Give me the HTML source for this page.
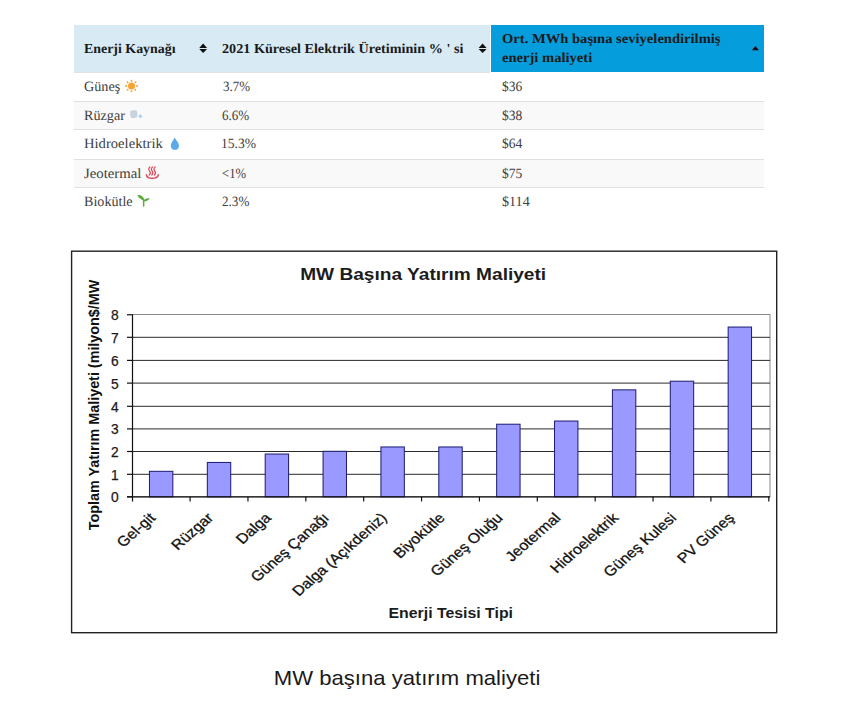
<!DOCTYPE html>
<html><head><meta charset="utf-8">
<style>
html,body{margin:0;padding:0;background:#fff;}
body{width:845px;height:726px;position:relative;overflow:hidden;font-family:"Liberation Serif", serif;}
.hdr{position:absolute;top:25px;height:47px;}
.row{position:absolute;left:74px;width:689.6px;box-sizing:border-box;}
.t{position:absolute;white-space:nowrap;line-height:1;transform-origin:0 0;text-rendering:geometricPrecision;}
.ic{position:absolute;overflow:visible;}
svg.chart{position:absolute;left:0;top:0;font-family:"Liberation Sans", sans-serif;}
</style></head><body>
<div class="hdr" style="left:74px;width:416px;background:#d8ebf5"></div>
<div class="hdr" style="left:491px;width:272.6px;background:#059ddc"></div>
<div class="row" style="top:72px;height:29px;background:#fff;"></div>
<div class="row" style="top:101px;height:28px;background:#f9f9f9;border-top:1px solid #e0e0e0;"></div>
<div class="row" style="top:129px;height:30px;background:#fff;border-top:1px solid #e0e0e0;"></div>
<div class="row" style="top:159px;height:28px;background:#f9f9f9;border-top:1px solid #e0e0e0;"></div>
<div class="row" style="top:187px;height:29px;background:#fff;border-top:1px solid #e0e0e0;"></div>
<div style="position:absolute;left:74px;top:72px;width:416px;height:1px;background:#dfe3e6"></div>
<span class="t" style="left:84.10px;top:41.71px;font-weight:bold;font-size:13.6px;color:#1a1a1a;transform:scaleX(1.0232)">Enerji Kaynağı</span>
<span class="t" style="left:222.10px;top:41.71px;font-weight:bold;font-size:13.6px;color:#1a1a1a;transform:scaleX(1.0433)">2021 Küresel Elektrik Üretiminin % ' si</span>
<span class="t" style="left:502.00px;top:32.21px;font-weight:bold;font-size:13.6px;color:#1a1a1a;transform:scaleX(1.0716)">Ort. MWh başına seviyelendirilmiş</span>
<span class="t" style="left:502.00px;top:51.21px;font-weight:bold;font-size:13.6px;color:#1a1a1a;transform:scaleX(1.0716)">enerji maliyeti</span>
<span class="t" style="left:84.40px;top:79.71px;font-weight:normal;font-size:14.2px;color:#404040;transform:scaleX(0.9992)">Güneş</span>
<span class="t" style="left:84.30px;top:109.11px;font-weight:normal;font-size:14.2px;color:#404040;transform:scaleX(0.9989)">Rüzgar</span>
<span class="t" style="left:84.20px;top:137.41px;font-weight:normal;font-size:14.2px;color:#404040;transform:scaleX(1.0306)">Hidroelektrik</span>
<span class="t" style="left:84.00px;top:167.01px;font-weight:normal;font-size:14.2px;color:#404040;transform:scaleX(1.0415)">Jeotermal</span>
<span class="t" style="left:84.40px;top:194.91px;font-weight:normal;font-size:14.2px;color:#404040;transform:scaleX(0.9945)">Biokütle</span>
<span class="t" style="left:222.50px;top:79.71px;font-weight:normal;font-size:14.2px;color:#404040;transform:scaleX(0.9181)">3.7%</span>
<span class="t" style="left:222.10px;top:109.11px;font-weight:normal;font-size:14.2px;color:#404040;transform:scaleX(0.9215)">6.6%</span>
<span class="t" style="left:221.35px;top:137.41px;font-weight:normal;font-size:14.2px;color:#404040;transform:scaleX(0.9546)">15.3%</span>
<span class="t" style="left:222.00px;top:167.01px;font-weight:normal;font-size:14.2px;color:#404040;transform:scaleX(0.8932)">&lt;1%</span>
<span class="t" style="left:222.00px;top:194.91px;font-weight:normal;font-size:14.2px;color:#404040;transform:scaleX(0.9249)">2.3%</span>
<span class="t" style="left:501.80px;top:79.71px;font-weight:normal;font-size:14.2px;color:#404040;transform:scaleX(0.9534)">$36</span>
<span class="t" style="left:501.80px;top:109.11px;font-weight:normal;font-size:14.2px;color:#404040;transform:scaleX(0.9534)">$38</span>
<span class="t" style="left:501.80px;top:137.41px;font-weight:normal;font-size:14.2px;color:#404040;transform:scaleX(0.9534)">$64</span>
<span class="t" style="left:501.80px;top:167.01px;font-weight:normal;font-size:14.2px;color:#404040;transform:scaleX(0.9534)">$75</span>
<span class="t" style="left:501.80px;top:194.91px;font-weight:normal;font-size:14.2px;color:#404040;transform:scaleX(0.9944)">$114</span>
<svg class="ic" style="left:0;top:0" width="845" height="230" viewBox="0 0 845 230">
<path fill="#111" d="M199.2 48 L203.15 43.5 L207.1 48 Z M199.2 49 L203.15 53 L207.1 49 Z M478.6 48 L482.6 43.4 L486.6 48 Z M478.6 49 L482.6 53 L486.6 49 Z"/>
<path fill="#0a0a0a" d="M751.8 50.2 L755.4 45.9 L759 50.2 Z"/>
<g fill="#f9a22f">
<circle cx="131.5" cy="85.9" r="3.5"/>
<ellipse cx="131.5" cy="80.9" rx="0.9" ry="1.1"/>
<circle cx="131.5" cy="91.3" r="0.95"/>
<ellipse cx="126.1" cy="85.9" rx="1.1" ry="0.9"/>
<ellipse cx="137.1" cy="85.9" rx="1.1" ry="0.9"/>
<circle cx="127.5" cy="82.3" r="0.95"/>
<circle cx="135.5" cy="82.3" r="0.95"/>
<circle cx="127.6" cy="89.7" r="0.95"/>
<circle cx="135.3" cy="89.7" r="0.95"/>
</g>
<path d="M130.3 111.2 C131.5 110.2 134.5 109.9 136.6 110.6 C137.6 112.6 137.6 115.8 136.8 117.6 C134.6 118.3 132 118.2 130.8 117.4 C130.1 115.4 129.9 112.8 130.3 111.2 Z" fill="#c9d3de"/>
<circle cx="140.4" cy="116.3" r="1.7" fill="#a9d3f3"/>
<path d="M174.7 137.6 C173.6 140.2 170.8 142.8 170.8 145.9 C170.8 148.3 172.6 149.8 174.9 149.8 C177.2 149.8 179 148.3 179 145.9 C179 142.8 175.9 140.2 174.7 137.6 Z" fill="#5aa9e8"/>
<g fill="none" stroke="#e04b5e" stroke-linecap="round">
<path stroke-width="1.25" d="M149.9 166.9 C148.3 168.2 148.6 169.9 149.5 170.9 C150.5 172 150.6 173.6 149.2 175.1"/>
<path stroke-width="1.25" d="M152.5 166.9 C150.9 168.2 151.2 169.9 152.1 170.9 C153.1 172 153.2 173.6 151.8 175.1"/>
<path stroke-width="1.25" d="M155.1 166.9 C153.5 168.2 153.8 169.9 154.7 170.9 C155.7 172 155.8 173.6 154.4 175.1"/>
<path stroke-width="1.4" d="M146.3 174.6 C146.6 177.3 149 178.3 152.3 178.3 C155.6 178.3 158 177.3 158.3 174.6"/>
</g>
<g fill="#5daa3f">
<path d="M137.4 195.3 C139.6 194.4 142.5 195.4 143.9 198.6 L144.3 200.4 C141.6 200.2 138.7 198.3 137.4 195.3 Z"/>
<path d="M143.6 201.4 C144.2 198.9 146.8 197.7 149.6 198.3 C148.6 200.6 146.2 201.6 143.6 201.4 Z"/>
<rect x="142.9" y="199.6" width="1.5" height="7.2" rx="0.7"/>
</g>
</svg>
<svg class="chart" width="845" height="726" viewBox="0 0 845 726" style="top:0;left:0">
<rect x="71.6" y="251.2" width="705.1" height="381.5" fill="#fff" stroke="#222" stroke-width="1.4"/>
<rect x="132.5" y="314.5" width="637.5" height="182.3" fill="none" stroke="#8a8a8a" stroke-width="1"/>
<line x1="132.5" y1="474.30" x2="770.0" y2="474.30" stroke="#2a2a2a" stroke-width="1"/>
<line x1="132.5" y1="451.50" x2="770.0" y2="451.50" stroke="#2a2a2a" stroke-width="1"/>
<line x1="132.5" y1="428.90" x2="770.0" y2="428.90" stroke="#2a2a2a" stroke-width="1"/>
<line x1="132.5" y1="406.30" x2="770.0" y2="406.30" stroke="#2a2a2a" stroke-width="1"/>
<line x1="132.5" y1="383.10" x2="770.0" y2="383.10" stroke="#2a2a2a" stroke-width="1"/>
<line x1="132.5" y1="360.40" x2="770.0" y2="360.40" stroke="#2a2a2a" stroke-width="1"/>
<line x1="132.5" y1="337.30" x2="770.0" y2="337.30" stroke="#2a2a2a" stroke-width="1"/>
<rect x="149.45" y="471.31" width="23.4" height="25.49" fill="#9999ff" stroke="#1a1a70" stroke-width="1"/>
<rect x="207.32" y="462.44" width="23.4" height="34.36" fill="#9999ff" stroke="#1a1a70" stroke-width="1"/>
<rect x="265.19" y="454.02" width="23.4" height="42.78" fill="#9999ff" stroke="#1a1a70" stroke-width="1"/>
<rect x="323.06" y="451.29" width="23.4" height="45.51" fill="#9999ff" stroke="#1a1a70" stroke-width="1"/>
<rect x="380.93" y="446.96" width="23.4" height="49.84" fill="#9999ff" stroke="#1a1a70" stroke-width="1"/>
<rect x="438.80" y="446.96" width="23.4" height="49.84" fill="#9999ff" stroke="#1a1a70" stroke-width="1"/>
<rect x="496.67" y="424.21" width="23.4" height="72.59" fill="#9999ff" stroke="#1a1a70" stroke-width="1"/>
<rect x="554.54" y="421.02" width="23.4" height="75.78" fill="#9999ff" stroke="#1a1a70" stroke-width="1"/>
<rect x="612.41" y="389.85" width="23.4" height="106.95" fill="#9999ff" stroke="#1a1a70" stroke-width="1"/>
<rect x="670.28" y="381.20" width="23.4" height="115.60" fill="#9999ff" stroke="#1a1a70" stroke-width="1"/>
<rect x="728.15" y="327.04" width="23.4" height="169.76" fill="#9999ff" stroke="#1a1a70" stroke-width="1"/>
<line x1="132.5" y1="314.5" x2="132.5" y2="501.5" stroke="#111" stroke-width="1.2"/>
<line x1="127" y1="496.8" x2="770.0" y2="496.8" stroke="#111" stroke-width="1.2"/>
<line x1="127" y1="496.80" x2="132.5" y2="496.80" stroke="#111" stroke-width="1.2"/>
<text x="118.8" y="502.30" text-anchor="end" font-size="13.8" fill="#1a1a1a" stroke="#1a1a1a" stroke-width="0.25">0</text>
<line x1="127" y1="474.30" x2="132.5" y2="474.30" stroke="#111" stroke-width="1.2"/>
<text x="118.8" y="479.80" text-anchor="end" font-size="13.8" fill="#1a1a1a" stroke="#1a1a1a" stroke-width="0.25">1</text>
<line x1="127" y1="451.50" x2="132.5" y2="451.50" stroke="#111" stroke-width="1.2"/>
<text x="118.8" y="457.00" text-anchor="end" font-size="13.8" fill="#1a1a1a" stroke="#1a1a1a" stroke-width="0.25">2</text>
<line x1="127" y1="428.90" x2="132.5" y2="428.90" stroke="#111" stroke-width="1.2"/>
<text x="118.8" y="434.40" text-anchor="end" font-size="13.8" fill="#1a1a1a" stroke="#1a1a1a" stroke-width="0.25">3</text>
<line x1="127" y1="406.30" x2="132.5" y2="406.30" stroke="#111" stroke-width="1.2"/>
<text x="118.8" y="411.80" text-anchor="end" font-size="13.8" fill="#1a1a1a" stroke="#1a1a1a" stroke-width="0.25">4</text>
<line x1="127" y1="383.10" x2="132.5" y2="383.10" stroke="#111" stroke-width="1.2"/>
<text x="118.8" y="388.60" text-anchor="end" font-size="13.8" fill="#1a1a1a" stroke="#1a1a1a" stroke-width="0.25">5</text>
<line x1="127" y1="360.40" x2="132.5" y2="360.40" stroke="#111" stroke-width="1.2"/>
<text x="118.8" y="365.90" text-anchor="end" font-size="13.8" fill="#1a1a1a" stroke="#1a1a1a" stroke-width="0.25">6</text>
<line x1="127" y1="337.30" x2="132.5" y2="337.30" stroke="#111" stroke-width="1.2"/>
<text x="118.8" y="342.80" text-anchor="end" font-size="13.8" fill="#1a1a1a" stroke="#1a1a1a" stroke-width="0.25">7</text>
<line x1="127" y1="314.75" x2="132.5" y2="314.75" stroke="#111" stroke-width="1.2"/>
<text x="118.8" y="320.25" text-anchor="end" font-size="13.8" fill="#1a1a1a" stroke="#1a1a1a" stroke-width="0.25">8</text>
<line x1="190.09" y1="496.8" x2="190.09" y2="501.5" stroke="#111" stroke-width="1.2"/>
<line x1="247.95" y1="496.8" x2="247.95" y2="501.5" stroke="#111" stroke-width="1.2"/>
<line x1="305.82" y1="496.8" x2="305.82" y2="501.5" stroke="#111" stroke-width="1.2"/>
<line x1="363.69" y1="496.8" x2="363.69" y2="501.5" stroke="#111" stroke-width="1.2"/>
<line x1="421.56" y1="496.8" x2="421.56" y2="501.5" stroke="#111" stroke-width="1.2"/>
<line x1="479.43" y1="496.8" x2="479.43" y2="501.5" stroke="#111" stroke-width="1.2"/>
<line x1="537.30" y1="496.8" x2="537.30" y2="501.5" stroke="#111" stroke-width="1.2"/>
<line x1="595.17" y1="496.8" x2="595.17" y2="501.5" stroke="#111" stroke-width="1.2"/>
<line x1="653.04" y1="496.8" x2="653.04" y2="501.5" stroke="#111" stroke-width="1.2"/>
<line x1="710.91" y1="496.8" x2="710.91" y2="501.5" stroke="#111" stroke-width="1.2"/>
<line x1="768.78" y1="496.8" x2="768.78" y2="501.5" stroke="#111" stroke-width="1.2"/>
<text transform="translate(156.35,518.8) scale(1.14,1) rotate(-45)" text-anchor="end" font-size="14" fill="#111" stroke="#111" stroke-width="0.3">Gel-git</text>
<text transform="translate(214.22,518.8) scale(1.14,1) rotate(-45)" text-anchor="end" font-size="14" fill="#111" stroke="#111" stroke-width="0.3">Rüzgar</text>
<text transform="translate(272.09,518.8) scale(1.14,1) rotate(-45)" text-anchor="end" font-size="14" fill="#111" stroke="#111" stroke-width="0.3">Dalga</text>
<text transform="translate(329.96,518.8) scale(1.14,1) rotate(-45)" text-anchor="end" font-size="14" fill="#111" stroke="#111" stroke-width="0.3">Güneş Çanağı</text>
<text transform="translate(387.83,518.8) scale(1.14,1) rotate(-45)" text-anchor="end" font-size="14" fill="#111" stroke="#111" stroke-width="0.3">Dalga (Açıkdeniz)</text>
<text transform="translate(445.70,518.8) scale(1.14,1) rotate(-45)" text-anchor="end" font-size="14" fill="#111" stroke="#111" stroke-width="0.3">Biyokütle</text>
<text transform="translate(503.57,518.8) scale(1.14,1) rotate(-45)" text-anchor="end" font-size="14" fill="#111" stroke="#111" stroke-width="0.3">Güneş Oluğu</text>
<text transform="translate(561.44,518.8) scale(1.14,1) rotate(-45)" text-anchor="end" font-size="14" fill="#111" stroke="#111" stroke-width="0.3">Jeotermal</text>
<text transform="translate(619.31,518.8) scale(1.14,1) rotate(-45)" text-anchor="end" font-size="14" fill="#111" stroke="#111" stroke-width="0.3">Hidroelektrik</text>
<text transform="translate(677.18,518.8) scale(1.14,1) rotate(-45)" text-anchor="end" font-size="14" fill="#111" stroke="#111" stroke-width="0.3">Güneş Kulesi</text>
<text transform="translate(735.05,518.8) scale(1.14,1) rotate(-45)" text-anchor="end" font-size="14" fill="#111" stroke="#111" stroke-width="0.3">PV Güneş</text>
<text x="300.2" y="279.5" font-size="15.8" font-weight="bold" textLength="246" lengthAdjust="spacingAndGlyphs" fill="#1c1c1c">MW Başına Yatırım Maliyeti</text>
<text x="388.5" y="617.5" font-size="14" font-weight="bold" textLength="124.5" lengthAdjust="spacingAndGlyphs" fill="#1c1c1c">Enerji Tesisi Tipi</text>
<text transform="translate(98.8,530.2) rotate(-90)" font-size="14" font-weight="bold" textLength="250.5" lengthAdjust="spacingAndGlyphs" fill="#111">Toplam Yatırım Maliyeti (milyon$/MW</text>
<text x="273.8" y="684.9" font-size="19.8" textLength="266.5" lengthAdjust="spacingAndGlyphs" fill="#1a1a1a">MW başına yatırım maliyeti</text>
</svg>
</body></html>
